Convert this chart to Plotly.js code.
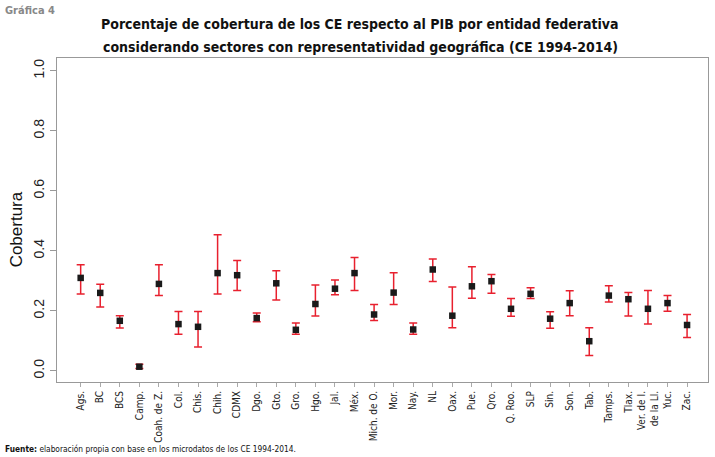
<!DOCTYPE html>
<html>
<head>
<meta charset="utf-8">
<script src="https://cdn.plot.ly/plotly-3.0.1.min.js"></script>
<style>
html,body{margin:0;padding:0;background:#fff;}
#chart{width:715px;height:457px;}
</style>
</head>
<body>
<div id="chart"></div>
<script>
const entidades = ["Ags.","BC","BCS","Camp.","Coah. de Z.","Col.","Chis.","Chih.","CDMX","Dgo.","Gto.","Gro.","Hgo.","Jal.","Méx.","Mich. de O.",
  "Mor.","Nay.","NL","Oax.","Pue.","Qro.","Q. Roo.","SLP","Sin.","Son.","Tab.","Tamps.","Tlax.","Ver. de I.<br>de la Ll.","Yuc.","Zac."];
const cobertura = [0.310,0.260,0.167,0.014,0.290,0.156,0.147,0.326,0.319,0.176,0.292,0.137,0.223,0.274,0.326,0.188,
  0.261,0.138,0.338,0.184,0.282,0.299,0.207,0.257,0.174,0.226,0.099,0.251,0.239,0.207,0.226,0.153];
const limiteSup = [0.354,0.289,0.184,0.022,0.354,0.198,0.198,0.454,0.368,0.193,0.334,0.160,0.286,0.303,0.378,0.221,
  0.327,0.160,0.373,0.280,0.347,0.321,0.241,0.277,0.197,0.267,0.144,0.284,0.261,0.268,0.251,0.188];
const limiteInf = [0.256,0.213,0.143,0.008,0.251,0.122,0.080,0.256,0.268,0.164,0.236,0.122,0.183,0.254,0.268,0.168,
  0.221,0.122,0.298,0.144,0.242,0.259,0.182,0.241,0.142,0.184,0.051,0.230,0.183,0.156,0.199,0.111];
const yTicks = [0,0.2,0.4,0.6,0.8,1.0];
const yTickText = ["0.0","0.2","0.4","0.6","0.8","1.0"];
const tituloLineas = ["Porcentaje de cobertura de los CE respecto al PIB por entidad federativa",
  "considerando sectores con representatividad geográfica (CE 1994-2014)"];

const COND = "DejaVu Sans Condensed, DejaVu Sans, sans-serif";
const idx = entidades.map((_, i) => i);
const trace = {
  type: "scatter", mode: "markers",
  x: idx, y: cobertura,
  marker: {symbol: "square", size: 6.5, color: "#1a1a1a"},
  error_y: {
    type: "data", symmetric: false,
    array: cobertura.map((v, i) => limiteSup[i] - v),
    arrayminus: cobertura.map((v, i) => v - limiteInf[i]),
    color: "#e8202e", thickness: 1.5, width: 4
  },
  hoverinfo: "skip"
};

const layout = {
  width: 715, height: 457,
  margin: {l: 57, r: 7, t: 58, b: 75},
  paper_bgcolor: "#fff", plot_bgcolor: "#fff",
  showlegend: false,
  xaxis: {
    range: [-1.21, 32.07],
    tickmode: "array", tickvals: idx, ticktext: entidades,
    tickangle: -90,
    tickfont: {family: COND, size: 10, color: "#222"},
    ticks: "outside", ticklen: 4, tickcolor: "#aaa",
    showgrid: false, zeroline: false,
    showline: true, linecolor: "#999", linewidth: 1, mirror: true
  },
  yaxis: {
    range: [-0.037, 1.043],
    tickmode: "array", tickvals: yTicks, ticktext: yTickText,
    tickangle: -90,
    tickfont: {family: "Liberation Sans, Arial, sans-serif", size: 14, color: "#222"},
    ticks: "outside", ticklen: 6, tickcolor: "#999",
    showgrid: false, zeroline: false,
    showline: true, linecolor: "#999", linewidth: 1, mirror: true
  },
  annotations: [
    {text: "<b>" + tituloLineas[0] + "</b>", xref: "paper", yref: "paper", x: 0.466, y: 1.105,
     xanchor: "center", yanchor: "middle", showarrow: false,
     font: {family: COND, size: 14, color: "#111"}},
    {text: "<b>" + tituloLineas[1] + "</b>", xref: "paper", yref: "paper", x: 0.466, y: 1.034,
     xanchor: "center", yanchor: "middle", showarrow: false,
     font: {family: COND, size: 14, color: "#111"}},
    {text: "Cobertura", xref: "paper", yref: "paper", x: -0.062, y: 0.47, textangle: -90,
     xanchor: "center", yanchor: "middle", showarrow: false,
     font: {family: "Liberation Sans, Arial, sans-serif", size: 17, color: "#111"}},
    {text: "<b>Gráfica 4</b>", xref: "paper", yref: "paper", x: -0.083, y: 1.148, xanchor: "left", yanchor: "middle",
     showarrow: false,
     font: {family: COND, size: 11, color: "#888"}},
    {text: "<b>Fuente:</b> elaboración propia con base en los microdatos de los CE 1994-2014.",
     xref: "paper", yref: "paper", x: -0.083, y: -0.207, xanchor: "left", yanchor: "middle",
     showarrow: false,
     font: {family: COND, size: 8.3, color: "#111"}}
  ]
};

Plotly.newPlot("chart", [trace], layout, {staticPlot: true, displayModeBar: false});
</script>
</body>
</html>
